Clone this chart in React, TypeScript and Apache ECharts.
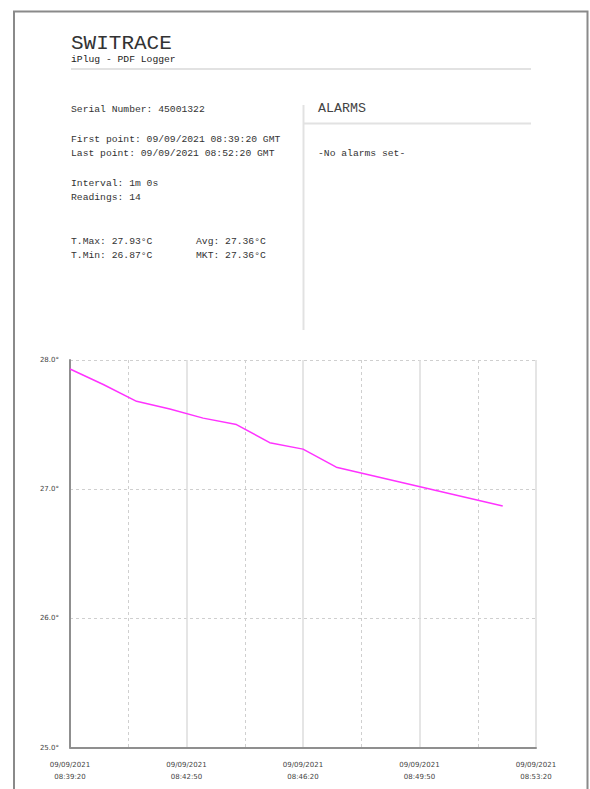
import React, { useEffect, useRef } from "react";
import * as echarts from "echarts";

// ---- data ----
const readingTimes = [
  "08:39:20", "08:40:20", "08:41:20", "08:42:20", "08:43:20", "08:44:20", "08:45:20",
  "08:46:20", "08:47:20", "08:48:20", "08:49:20", "08:50:20", "08:51:20", "08:52:20",
];
const temperatures = [
  27.93, 27.81, 27.68, 27.62, 27.55, 27.5, 27.36, 27.31, 27.17, 27.11, 27.05, 26.99, 26.93, 26.87,
];
const logDate = "09/09/2021";
const axisStart = "08:39:20";
const axisEnd = "08:53:20";
const yTicks = [25, 26, 27, 28];

const infoLines = [
  "Serial Number: 45001322",
  "First point: 09/09/2021 08:39:20 GMT",
  "Last point: 09/09/2021 08:52:20 GMT",
  "Interval: 1m 0s",
  "Readings: 14",
];
const statsLeft = ["T.Max: 27.93°C", "T.Min: 26.87°C"];
const statsRight = ["Avg: 27.36°C", "MKT: 27.36°C"];

const toSec = (t: string) => {
  const [h, m, s] = t.split(":").map(Number);
  return h * 3600 + m * 60 + s;
};
const pad = (n: number) => String(n).padStart(2, "0");
const fromSec = (sec: number) =>
  `${pad(Math.floor(sec / 3600))}:${pad(Math.floor((sec % 3600) / 60))}:${pad(sec % 60)}`;

export default function App() {
  const ref = useRef<HTMLDivElement>(null);
  useEffect(() => {
    if (!ref.current) return;
    const chart = echarts.init(ref.current, null, { renderer: "svg" });
    const t0 = toSec(axisStart);
    const t1 = toSec(axisEnd);
    const seriesData = readingTimes.map((t, i) => [toSec(t) - t0, temperatures[i]]);
    const mono = "'Liberation Mono', 'Courier New', monospace";
    const txt = (text: string, x: number, y: number, size: number, fill = "#333") => ({
      type: "text",
      x,
      y,
      silent: true,
      style: { text, fontSize: size, fontFamily: mono, fill, align: "left", verticalAlign: "middle" },
    });
    const ln = (x1: number, y1: number, x2: number, y2: number, stroke = "#e2e2e2", w = 2) => ({
      type: "line",
      silent: true,
      shape: { x1, y1, x2, y2 },
      style: { stroke, lineWidth: w },
    });
    const infoY = [109, 139, 153, 183, 197];
    chart.setOption({
      animation: false,
      backgroundColor: "#ffffff",
      grid: { left: 70, right: 54, top: 360, bottom: 41.5, outerBoundsMode: "none" },
      xAxis: {
        type: "value",
        min: 0,
        max: t1 - t0,
        interval: 210,
        axisLine: { show: true, lineStyle: { color: "#8f8f8f", width: 2 } },
        axisTick: { show: false },
        minorTick: { show: false, splitNumber: 2 },
        splitLine: { show: true, lineStyle: { color: "#dcdcdc", width: 1.5, type: "solid" } },
        minorSplitLine: { show: true, lineStyle: { color: "#cfcfcf", width: 1, type: [3, 3] } },
        axisLabel: {
          show: true,
          showMinLabel: true,
          showMaxLabel: true,
          margin: 11,
          fontSize: 7,
          lineHeight: 12,
          fontFamily: "'DejaVu Sans', Verdana, sans-serif",
          color: "#444",
          formatter: (v: number) => `${logDate}\n${fromSec(t0 + Math.round(v))}`,
        },
      },
      yAxis: {
        type: "value",
        min: yTicks[0],
        max: yTicks[yTicks.length - 1],
        interval: 1,
        axisLine: { show: true, lineStyle: { color: "#8f8f8f", width: 2 } },
        axisTick: { show: false },
        splitLine: { show: true, lineStyle: { color: "#cfcfcf", width: 1, type: [3, 3] } },
        axisLabel: {
          margin: 11,
          fontSize: 7,
          fontFamily: "'DejaVu Sans', Verdana, sans-serif",
          color: "#444",
          padding: [0, 0, 6, 0],
          formatter: (v: number) => `${v.toFixed(1)}°`,
        },
      },
      series: [
        {
          type: "line",
          data: seriesData,
          showSymbol: false,
          symbol: "none",
          lineStyle: { color: "#ff33ff", width: 1.5 },
          itemStyle: { color: "#ff33ff" },
          z: 5,
        },
      ],
      graphic: [
        {
          type: "rect",
          silent: true,
          shape: { x: 14, y: 11.5, width: 573.5, height: 800 },
          style: { fill: "none", stroke: "#8a8a8a", lineWidth: 2 },
        },
        txt("SWITRACE", 71, 43, 21, "#333"),
        txt("iPlug - PDF Logger", 71, 59, 9.7, "#222"),
        ln(71, 69, 531, 69),
        ...infoLines.map((s, i) => txt(s, 71, infoY[i], 9.7)),
        ...statsLeft.map((s, i) => txt(s, 71, 241 + i * 14, 9.7)),
        ...statsRight.map((s, i) => txt(s, 196, 241 + i * 14, 9.7)),
        ln(303.5, 105, 303.5, 330),
        txt("ALARMS", 318, 108, 13.3, "#444"),
        ln(303, 123.5, 531, 123.5),
        txt("-No alarms set-", 318, 153, 9.7),
      ],
    });
    return () => chart.dispose();
  }, []);
  return (
    <div
      ref={ref}
      style={{ position: "fixed", left: 0, top: 0, width: 590, height: 789, background: "#fff" }}
    />
  );
}
